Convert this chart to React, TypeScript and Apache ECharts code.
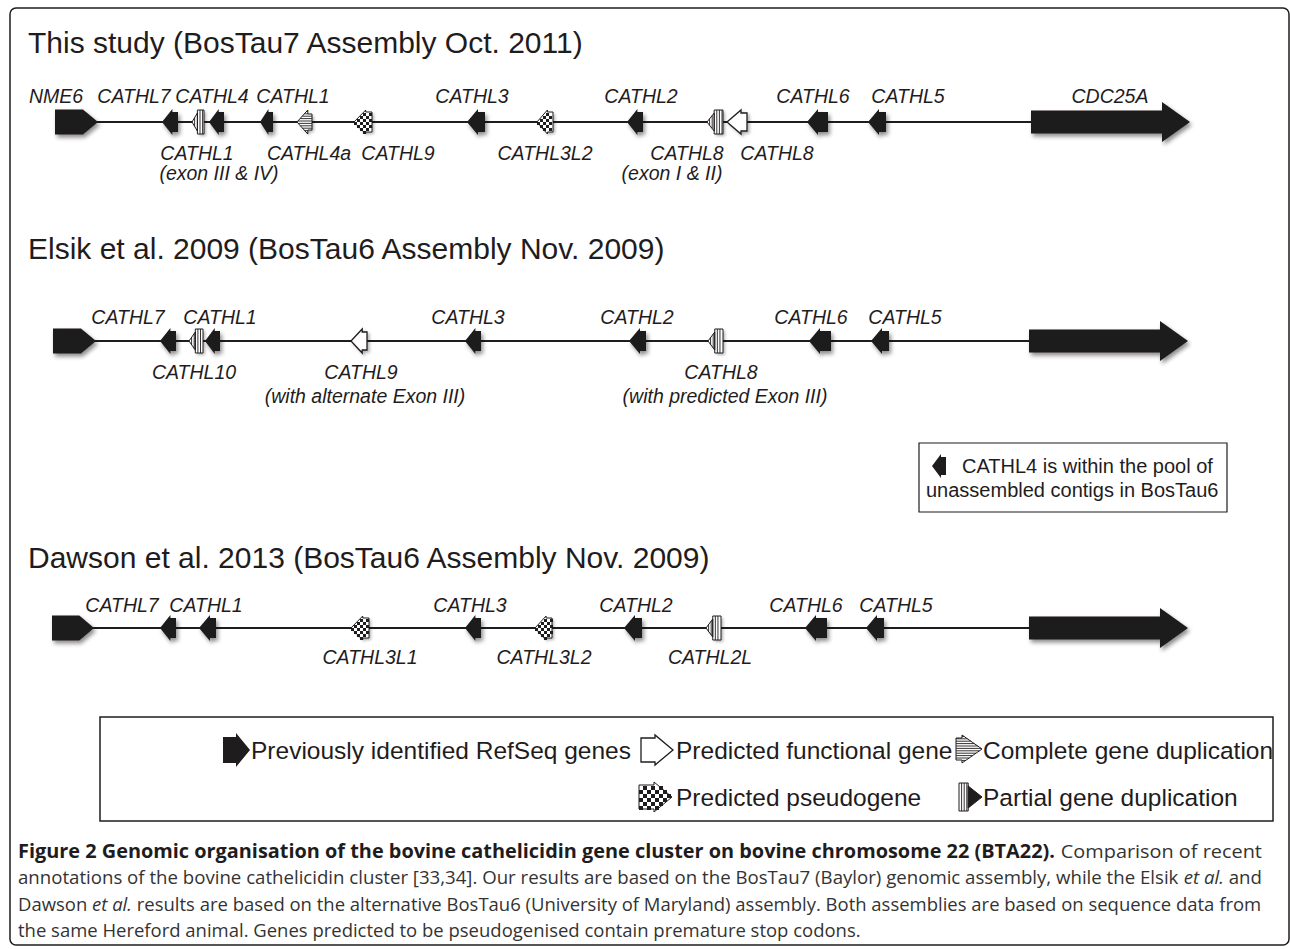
import React, { useEffect, useRef } from 'react';
import * as echarts from 'echarts';

const W = 1290;
const H = 949;
const INK = '#1f1c1d';
const SANS = '"Liberation Sans", Arial, sans-serif';
const CAP_FAMILY = '"Open Sans", sans-serif';
const CAP_SIZE = 19;

type Kind = 'refseq' | 'big' | 'black' | 'white' | 'partial' | 'complete' | 'pseudo';
type Gene = [number, number, Kind, number]; // start, end, kind, direction (1 = right, -1 = left)
type Label = [string, number, number]; // text, centre, row (0 above, 1 below, 2 second line below)

const TITLES = [
  'This study (BosTau7 Assembly Oct. 2011)',
  'Elsik et al. 2009 (BosTau6 Assembly Nov. 2009)',
  'Dawson et al. 2013 (BosTau6 Assembly Nov. 2009)',
];
const TRACK_Y = [122, 341, 628];

const GENES_STUDY: Gene[] = [
  [55, 98, 'refseq', 1],
  [162, 178, 'black', -1],
  [192, 204, 'partial', -1],
  [209, 224, 'black', -1],
  [260, 273, 'black', -1],
  [297, 312, 'complete', -1],
  [354, 372, 'pseudo', -1],
  [467, 485, 'black', -1],
  [537, 553, 'pseudo', -1],
  [627, 643, 'black', -1],
  [707, 723, 'partial', -1],
  [727, 747, 'white', -1],
  [807, 828, 'black', -1],
  [868, 886, 'black', -1],
  [1031, 1190, 'big', 1],
];
const GENES_ELSIK: Gene[] = [
  [53, 96, 'refseq', 1],
  [160, 176, 'black', -1],
  [189, 203, 'partial', -1],
  [205, 220, 'black', -1],
  [351, 367, 'white', -1],
  [465, 481, 'black', -1],
  [629, 646, 'black', -1],
  [708, 723, 'partial', -1],
  [809, 831, 'black', -1],
  [871, 889, 'black', -1],
  [1029, 1188, 'big', 1],
];
const GENES_DAWSON: Gene[] = [
  [52, 94, 'refseq', 1],
  [160, 176, 'black', -1],
  [199, 216, 'black', -1],
  [351, 369, 'pseudo', -1],
  [465, 481, 'black', -1],
  [535, 552, 'pseudo', -1],
  [624, 642, 'black', -1],
  [706, 721, 'partial', -1],
  [805, 827, 'black', -1],
  [866, 884, 'black', -1],
  [1029, 1188, 'big', 1],
];
const TRACK_GENES = [GENES_STUDY, GENES_ELSIK, GENES_DAWSON];

const LABELS_STUDY: Label[] = [
  ['NME6', 56, 0], ['CATHL7', 134, 0], ['CATHL4', 212, 0], ['CATHL1', 293, 0],
  ['CATHL3', 472, 0], ['CATHL2', 641, 0], ['CATHL6', 813, 0], ['CATHL5', 908, 0], ['CDC25A', 1110, 0],
  ['CATHL1', 197, 1], ['(exon III & IV)', 219, 2], ['CATHL4a', 309, 1], ['CATHL9', 398, 1],
  ['CATHL3L2', 545, 1], ['CATHL8', 687, 1], ['(exon I & II)', 672, 2], ['CATHL8', 777, 1],
];
const LABELS_ELSIK: Label[] = [
  ['CATHL7', 128, 0], ['CATHL1', 220, 0], ['CATHL3', 468, 0], ['CATHL2', 637, 0],
  ['CATHL6', 811, 0], ['CATHL5', 905, 0],
  ['CATHL10', 194, 1], ['CATHL9', 361, 1], ['(with alternate Exon III)', 365, 2],
  ['CATHL8', 721, 1], ['(with predicted Exon III)', 725, 2],
];
const LABELS_DAWSON: Label[] = [
  ['CATHL7', 122, 0], ['CATHL1', 206, 0], ['CATHL3', 470, 0], ['CATHL2', 636, 0],
  ['CATHL6', 806, 0], ['CATHL5', 896, 0],
  ['CATHL3L1', 370, 1], ['CATHL3L2', 544, 1], ['CATHL2L', 710, 1],
];
const TRACK_LABELS = [LABELS_STUDY, LABELS_ELSIK, LABELS_DAWSON];

const LEGEND_TEXTS = [
  'Previously identified RefSeq genes',
  'Predicted functional gene',
  'Complete gene duplication',
  'Predicted pseudogene',
  'Partial gene duplication',
];
const INSET_LINES = ['CATHL4 is within the pool of', 'unassembled contigs in BosTau6'];

type Seg = [string, string];
const CAPTION: Seg[][] = [
  [['b', 'Figure 2 Genomic organisation of the bovine cathelicidin gene cluster on bovine chromosome 22 (BTA22).'], ['n', ' Comparison of recent']],
  [['n', 'annotations of the bovine cathelicidin cluster [33,34]. Our results are based on the BosTau7 (Baylor) genomic assembly, while the Elsik '], ['i', 'et al.'], ['n', ' and']],
  [['n', 'Dawson '], ['i', 'et al.'], ['n', ' results are based on the alternative BosTau6 (University of Maryland) assembly. Both assemblies are based on sequence data from']],
  [['n', 'the same Hereford animal. Genes predicted to be pseudogenised contain premature stop codons.']],
];

// ---------- layout (code, not data) ----------
const TITLE_Y = [42, 248, 557];
const ROW_OFFSET = [[-26, 31, 51], [-24, 31, 55], [-23, 29, 50]];

type Sz = { h?: number; bh?: number; head?: number; th?: number; frac?: number; fillTri?: boolean; noShadow?: boolean; cell?: number };

function arrowPoints(a: number, b: number, yc: number, dir: number, h: number, bh: number, head: number) {
  if (dir < 0) {
    const xs = a + head;
    return [[a, yc], [xs, yc - h], [xs, yc - bh], [b, yc - bh], [b, yc + bh], [xs, yc + bh], [xs, yc + h]];
  }
  const xs = b - head;
  return [[b, yc], [xs, yc + h], [xs, yc + bh], [a, yc + bh], [a, yc - bh], [xs, yc - bh], [xs, yc - h]];
}

function inside(x: number, y: number, pts: number[][]) {
  let c = false;
  for (let i = 0, j = pts.length - 1; i < pts.length; j = i++) {
    const xi = pts[i][0], yi = pts[i][1], xj = pts[j][0], yj = pts[j][1];
    if ((yi > y) !== (yj > y) && x < ((xj - xi) * (y - yi)) / (yj - yi) + xi) c = !c;
  }
  return c;
}

function geneElements(kind: Kind, a: number, b: number, yc: number, dir: number, sz: Sz = {}) {
  const w = b - a;
  const els: any[] = [];
  const sh = sz.noShadow ? {} : { shadowBlur: 4, shadowColor: 'rgba(0,0,0,0.45)', shadowOffsetX: 2, shadowOffsetY: 3 };
  const shLight = sz.noShadow ? {} : { shadowBlur: 3, shadowColor: 'rgba(0,0,0,0.3)', shadowOffsetX: 2, shadowOffsetY: 2 };
  const poly = (pts: number[][], style: any) => els.push({ type: 'polygon', shape: { points: pts }, style });
  const line = (x1: number, y1: number, x2: number, y2: number, lw = 0.9) =>
    els.push({ type: 'line', shape: { x1, y1, x2, y2 }, style: { stroke: INK, lineWidth: lw } });
  const rect = (x: number, y: number, width: number, height: number, style: any) =>
    els.push({ type: 'rect', shape: { x, y, width, height }, style });

  if (kind === 'refseq') {
    poly(arrowPoints(a, b, yc, dir, sz.h ?? 12.5, sz.bh ?? 12.5, sz.head ?? w * 0.35), { fill: INK, ...sh });
  } else if (kind === 'big') {
    poly(arrowPoints(a, b, yc, dir, sz.h ?? 20, sz.bh ?? 11.5, sz.head ?? 28), { fill: INK, ...sh });
  } else if (kind === 'black') {
    poly(arrowPoints(a, b, yc, dir, sz.h ?? 13, sz.bh ?? 10, sz.head ?? Math.min(11, w * 0.65)), { fill: INK, ...sh });
  } else if (kind === 'white') {
    poly(arrowPoints(a, b, yc, dir, sz.h ?? 12, sz.bh ?? 9, sz.head ?? w * 0.7), { fill: '#fff', stroke: INK, lineWidth: 1.3, ...shLight });
  } else if (kind === 'complete') {
    const h = sz.h ?? 12, bh = sz.bh ?? 8, head = sz.head ?? w * 0.72;
    const pts = arrowPoints(a, b, yc, dir, h, bh, head);
    poly(pts, { fill: '#fff', ...shLight });
    for (let y = yc - h + 1.4; y < yc + h; y += 2.4) {
      const dy = Math.abs(y - yc);
      let xl: number, xr: number;
      if (dir < 0) {
        xl = a + (head * dy) / h;
        xr = dy <= bh ? b : a + head;
      } else {
        xr = b - (head * dy) / h;
        xl = dy <= bh ? a : b - head;
      }
      if (xr > xl + 0.5) line(xl, y, xr, y);
    }
    poly(pts, { fill: 'none', stroke: INK, lineWidth: 1 });
  } else if (kind === 'pseudo') {
    const h = sz.h ?? 12, bh = sz.bh ?? 10, head = sz.head ?? w * 0.65;
    const cell = sz.cell ?? 3;
    const pts = arrowPoints(a, b, yc, dir, h, bh, head);
    poly(pts, { fill: '#fff', ...shLight });
    const cols = Math.ceil(w / cell), rows = Math.ceil((2 * h) / cell);
    for (let i = 0; i < cols; i++) {
      for (let j = 0; j < rows; j++) {
        if ((i + j) % 2) continue;
        const x = a + i * cell, y = yc - h + j * cell;
        if (inside(x + cell / 2, y + cell / 2, pts)) rect(x, y, cell, cell, { fill: INK });
      }
    }
    poly(pts, { fill: 'none', stroke: INK, lineWidth: 1 });
  } else if (kind === 'partial') {
    const th = sz.th ?? 9, bh = sz.h ?? 12, frac = sz.frac ?? 0.45;
    let tri: number[][], bx0: number, bx1: number, m: number;
    if (dir < 0) {
      m = a + frac * w;
      tri = [[a, yc], [m, yc - th], [m, yc + th]];
      bx0 = m; bx1 = b;
    } else {
      m = b - frac * w;
      tri = [[b, yc], [m, yc - th], [m, yc + th]];
      bx0 = a; bx1 = m;
    }
    poly(tri, { fill: sz.fillTri ? INK : '#fff', ...shLight });
    rect(bx0, yc - bh, bx1 - bx0, 2 * bh, { fill: '#fff', ...shLight });
    const step = 2.6;
    for (let x = bx0 + step; x < bx1 - 0.6; x += step) line(x, yc - bh, x, yc + bh);
    if (!sz.fillTri) {
      const tx0 = dir < 0 ? a : m, tx1 = dir < 0 ? m : b;
      for (let x = tx0 + step; x < tx1 - 0.6; x += step) {
        const half = dir < 0 ? (th * (x - a)) / (m - a) : (th * (b - x)) / (b - m);
        line(x, yc - half, x, yc + half);
      }
    }
    poly(tri, { fill: 'none', stroke: INK, lineWidth: 1 });
    rect(bx0, yc - bh, bx1 - bx0, 2 * bh, { fill: 'none', stroke: INK, lineWidth: 1 });
  }
  return els;
}

const ALL_GENES = TRACK_GENES.flatMap((genes, t) =>
  genes.map((g) => ({ start: g[0], end: g[1], kind: g[2], dir: g[3], y: TRACK_Y[t] }))
);
const TRACK_SPANS = TRACK_GENES.map((g, t) => [g[0][0] + 10, g[g.length - 1][0] + 10, TRACK_Y[t]]);
const ALL_LABELS = TRACK_LABELS.flatMap((labels, t) =>
  labels.map((l) => ({ text: l[0], x: l[1], y: TRACK_Y[t] + ROW_OFFSET[t][l[2]] }))
);

function textEl(text: string, x: number, y: number, font: string, align = 'left', fill = INK) {
  return {
    type: 'text',
    x,
    y,
    style: { text, font, fill, align, textAlign: align, verticalAlign: 'middle', textVerticalAlign: 'middle' },
    silent: true,
  };
}

function captionElements() {
  const ctx = document.createElement('canvas').getContext('2d') as CanvasRenderingContext2D;
  const fontOf: Record<string, string> = {
    b: `bold ${CAP_SIZE}px "Open Sans"`,
    n: `${CAP_SIZE}px "Open Sans"`,
    i: `italic ${CAP_SIZE}px "Open Sans"`,
  };
  const widthOf = (segs: Seg[]) =>
    segs.reduce((s, [k, t]) => {
      ctx.font = fontOf[k];
      return s + ctx.measureText(t).width;
    }, 0);
  const x0 = 18, x1 = 1262;
  const scales = CAPTION.slice(0, 3).map((segs) => (x1 - x0) / widthOf(segs));
  const natural = Math.min(...scales);
  const ys = [851, 877, 903, 929];
  const rich = {
    b: { fontFamily: CAP_FAMILY, fontSize: CAP_SIZE, fontWeight: 'bold', fill: INK },
    n: { fontFamily: CAP_FAMILY, fontSize: CAP_SIZE, fill: '#333' },
    i: { fontFamily: CAP_FAMILY, fontSize: CAP_SIZE, fontStyle: 'italic', fill: '#333' },
  };
  return CAPTION.map((segs, idx) => ({
    type: 'text',
    x: x0,
    y: ys[idx],
    scaleX: idx < 3 ? scales[idx] : natural,
    silent: true,
    style: {
      text: segs.map(([k, t]) => `{${k}|${t}}`).join(''),
      rich,
      fontFamily: CAP_FAMILY,
      fontSize: CAP_SIZE,
      fill: INK,
      align: 'left',
      textAlign: 'left',
      verticalAlign: 'middle',
      textVerticalAlign: 'middle',
    },
  }));
}

function buildOption() {
  const graphics: any[] = [];
  // figure frame
  graphics.push({ type: 'rect', silent: true, shape: { x: 10, y: 8, width: 1279, height: 937, r: 6 }, style: { fill: 'none', stroke: INK, lineWidth: 1.5 } });
  // titles
  TITLES.forEach((t, i) => graphics.push(textEl(t, 28, TITLE_Y[i], `30px ${SANS}`)));
  // inset note
  graphics.push({ type: 'rect', silent: true, shape: { x: 919, y: 443, width: 308, height: 69 }, style: { fill: '#fff', stroke: INK, lineWidth: 1.2 } });
  graphics.push({ type: 'group', silent: true, children: geneElements('black', 932, 946, 466, -1, { h: 12, bh: 9, head: 9, noShadow: true }) });
  graphics.push(textEl(INSET_LINES[0], 962, 466, `20px ${SANS}`));
  graphics.push(textEl(INSET_LINES[1], 926, 490, `20px ${SANS}`));
  // legend
  graphics.push({ type: 'rect', silent: true, shape: { x: 100, y: 717, width: 1173, height: 104 }, style: { fill: '#fff', stroke: INK, lineWidth: 1.5 } });
  const legendIcons: any[] = [
    geneElements('refseq', 223, 250, 750, 1, { h: 17, bh: 13, head: 14, noShadow: true }),
    geneElements('white', 641, 673, 750, 1, { h: 15, bh: 12, head: 18, noShadow: true }),
    geneElements('complete', 956, 982, 749, 1, { h: 14, bh: 11, head: 20, noShadow: true }),
    geneElements('pseudo', 639, 672, 797, 1, { h: 15, bh: 12, head: 18, cell: 4, noShadow: true }),
    geneElements('partial', 959, 982, 797, 1, { h: 14, th: 11, frac: 0.6, fillTri: true, noShadow: true }),
  ];
  legendIcons.forEach((children) => graphics.push({ type: 'group', silent: true, children }));
  const legendPos = [[251, 750], [676, 750], [983, 750], [676, 797], [983, 797]];
  LEGEND_TEXTS.forEach((t, i) => graphics.push(textEl(t, legendPos[i][0], legendPos[i][1], `24.5px ${SANS}`)));
  // caption
  captionElements().forEach((e) => graphics.push(e));

  return {
    animation: false,
    backgroundColor: '#fff',
    grid: { left: 0, right: 0, top: 0, bottom: 0 },
    xAxis: { type: 'value', min: 0, max: W, show: false },
    yAxis: { type: 'value', min: 0, max: H, inverse: true, show: false },
    series: [
      {
        type: 'custom',
        name: 'tracks',
        coordinateSystem: 'cartesian2d',
        silent: true,
        clip: false,
        z: 1,
        encode: { x: [0, 1], y: 2 },
        data: TRACK_SPANS,
        renderItem: (_p: any, api: any) => {
          const s = api.coord([api.value(0), api.value(2)]);
          const e = api.coord([api.value(1), api.value(2)]);
          return { type: 'line', shape: { x1: s[0], y1: s[1], x2: e[0], y2: e[1] }, style: { stroke: INK, lineWidth: 2 } };
        },
      },
      {
        type: 'custom',
        name: 'genes',
        coordinateSystem: 'cartesian2d',
        silent: true,
        clip: false,
        z: 2,
        encode: { x: [0, 1], y: 2 },
        data: ALL_GENES.map((g) => [g.start, g.end, g.y]),
        renderItem: (params: any, api: any) => {
          const g = ALL_GENES[params.dataIndex];
          const p1 = api.coord([api.value(0), api.value(2)]);
          const p2 = api.coord([api.value(1), api.value(2)]);
          return { type: 'group', children: geneElements(g.kind, p1[0], p2[0], p1[1], g.dir) };
        },
      },
      {
        type: 'custom',
        name: 'labels',
        coordinateSystem: 'cartesian2d',
        silent: true,
        clip: false,
        z: 3,
        encode: { x: 0, y: 1 },
        data: ALL_LABELS.map((l) => [l.x, l.y]),
        renderItem: (params: any, api: any) => {
          const l = ALL_LABELS[params.dataIndex];
          const p = api.coord([api.value(0), api.value(1)]);
          return textEl(l.text, p[0], p[1], `italic 19.5px ${SANS}`, 'center');
        },
      },
    ],
    graphic: { elements: graphics },
  };
}

export default function App() {
  const ref = useRef<HTMLDivElement>(null);
  useEffect(() => {
    if (!ref.current) return;
    const chart = echarts.init(ref.current, null, { renderer: 'svg', width: W, height: H });
    chart.setOption(buildOption() as any);
    return () => chart.dispose();
  }, []);
  return <div ref={ref} style={{ position: 'absolute', left: 0, top: 0, width: W, height: H, background: '#fff' }} />;
}
